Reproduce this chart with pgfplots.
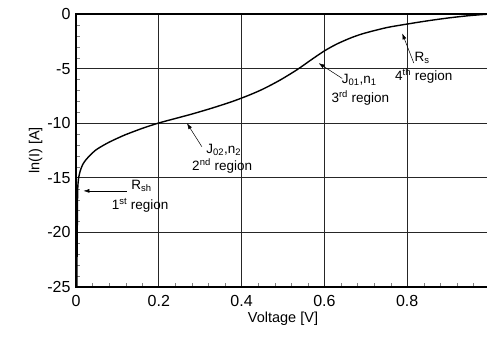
\documentclass[border=0pt]{standalone}
\usepackage{pgfplots}
\pgfplotsset{compat=1.18}
\usepackage{fontspec}
\setmainfont{Liberation Sans}
\usetikzlibrary{arrows.meta}
\begin{document}
\begin{tikzpicture}
\begin{axis}[
  scale only axis,
  width=414pt, height=273pt,
  xmin=0, xmax=1, ymin=-25, ymax=0,
  xtick={0,0.2,0.4,0.6,0.8,1.0},
  xticklabels={0,0.2,0.4,0.6,0.8,{}},
  ytick={-25,-20,-15,-10,-5,0},
  minor x tick num=4, minor y tick num=4,
  tick align=inside,
  major tick length=0pt,
  minor tick length=4pt,
  xtick pos=bottom, ytick pos=left,
  grid=major,
  major grid style={black!85, line width=0.8pt},
  axis line style={line width=1.3pt},
  /pgf/number format/assume math mode=true,
  tick label style={font=\fontsize{16}{19}\selectfont},
  xticklabel style={yshift=-5pt},
  yticklabel style={xshift=-2pt},
  xlabel={Voltage [V]}, ylabel={ln(I) [A]},
  label style={font=\fontsize{14.5}{17}\selectfont},
  xlabel style={yshift=2pt},
  ylabel style={yshift=-2pt},
  clip=false,
]
\addplot[black, line width=1.4pt, smooth, tension=0.5] coordinates {
(0.002,-25) (0.003,-20) (0.004,-16.3) (0.006,-15.1) (0.01,-14.4) (0.016,-13.8)
(0.024,-13.35) (0.035,-12.9) (0.048,-12.45) (0.065,-12.05) (0.081,-11.72)
(0.1,-11.38) (0.121,-11.03) (0.161,-10.46) (0.2,-9.98) (0.24,-9.57)
(0.282,-9.14) (0.33,-8.6) (0.38,-7.98) (0.42,-7.4) (0.453,-6.85)
(0.493,-6.05) (0.534,-5.1) (0.566,-4.25) (0.6,-3.38) (0.63,-2.75)
(0.663,-2.2) (0.695,-1.78) (0.75,-1.25) (0.8,-0.92) (0.85,-0.62)
(0.9,-0.36) (0.95,-0.15) (1.0,0)
};
\begin{scope}[font=\fontsize{13.5}{16}\selectfont, inner sep=0pt]
\draw[-{Latex[length=6pt,width=4pt]}, line width=0.5pt] (axis cs:0.122,-16.2) -- (axis cs:0.018,-16.2);
\node at (axis cs:0.158,-15.75) {R\textsubscript{sh}};
\node at (axis cs:0.155,-17.55) {1\textsuperscript{st} region};
\draw[-{Latex[length=6pt,width=4pt]}, line width=0.5pt] (axis cs:0.304,-12.15) -- (axis cs:0.268,-10.0);
\node at (axis cs:0.357,-12.45) {J\textsubscript{02},n\textsubscript{2}};
\node at (axis cs:0.353,-13.9) {2\textsuperscript{nd} region};
\draw[-{Latex[length=6pt,width=4pt]}, line width=0.5pt] (axis cs:0.643,-5.9) -- (axis cs:0.586,-4.5);
\node at (axis cs:0.684,-6.05) {J\textsubscript{01},n\textsubscript{1}};
\node at (axis cs:0.687,-7.7) {3\textsuperscript{rd} region};
\draw[-{Latex[length=6pt,width=4pt]}, line width=0.5pt] (axis cs:0.816,-4.5) -- (axis cs:0.788,-1.77);
\node at (axis cs:0.836,-4.05) {R\textsubscript{s}};
\node at (axis cs:0.84,-5.7) {4\textsuperscript{th} region};
\end{scope}
\end{axis}
\pgfresetboundingbox
\useasboundingbox (-76pt,-51pt) rectangle (411pt,287pt);
\end{tikzpicture}
\end{document}
